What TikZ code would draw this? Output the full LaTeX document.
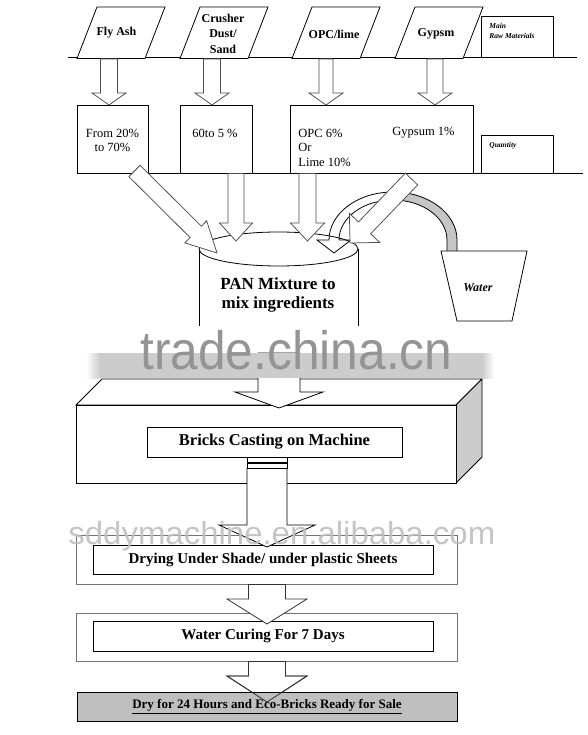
\documentclass[tikz,border=0pt]{standalone}
\usepackage{fontspec}
\setmainfont{Liberation Serif}
\newfontfamily\wmfont{Liberation Sans}
\usetikzlibrary{calc}
\newcommand\myfs[2]{\fontsize{#1}{#2}\selectfont}
% block arrow: [style]{tail}{tip}{half shaft}{half head}{head length}
\newcommand\blkarrow[6][]{%
  \coordinate (bah) at ($(#3)!#6!(#2)$);
  \draw[#1] ($(#2)!#4!90:(#3)$) -- ($(bah)!#4!90:(#3)$) -- ($(bah)!#5!90:(#3)$) -- (#3)
    -- ($(bah)!#5!-90:(#3)$) -- ($(bah)!#4!-90:(#3)$) -- ($(#2)!#4!-90:(#3)$) -- cycle;}
\tikzset{
  lbl/.style={inner sep=0pt, align=center, font=\bfseries\myfs{12}{15.5}},
  pct/.style={inner sep=0pt, align=center, font=\myfs{12.5}{14.5}},
  legend/.style={inner sep=0pt, align=left, font=\bfseries\itshape\myfs{7.5}{10}},
  frame/.style={draw=black!55, line width=0.9pt},
  barrow/.style={draw=black!70, fill=white, line width=0.75pt},
  stepbox/.style={draw, fill=white, inner sep=0pt, font=\bfseries\myfs{15}{18}},
}
\begin{document}
\begin{tikzpicture}[x=1pt,y=-1pt,line width=0.8pt]
\useasboundingbox (0,0) rectangle (587,735);
\fill[white] (0,0) rectangle (587,735);

% ---------- main raw materials row ----------
\draw (68,57) -- (577,57);
\draw[fill=white] (77,58.5) -- (97,7) -- (165,7) -- (145,58.5) -- cycle;
\draw[fill=white] (180,58.5) -- (200,7) -- (268,7) -- (248,58.5) -- cycle;
\draw[fill=white] (292,58.5) -- (312,7) -- (380,7) -- (360,58.5) -- cycle;
\draw[fill=white] (395,58.5) -- (415,7) -- (483,7) -- (463,58.5) -- cycle;
\node[lbl] (fa) at (116.5,33) {Fly Ash};
\node[lbl] (cd) at (223,33.5) {Crusher\\Dust/\\Sand};
\node[lbl] (opc) at (334,34) {OPC/lime};
\node[lbl] (gy) at (436,34) {Gypsm};
\draw (481,16) rectangle (553,57);
\node[legend, anchor=west] (mrm) at (489,31) {Main\\Raw Materials};

% ---------- quantity row ----------
\draw (77,173) -- (583,173);
\draw[fill=white] (77,105) rectangle (148,173);
\draw[fill=white] (180,105) rectangle (252,173);
\draw[fill=white] (290,105) rectangle (473,173);
\draw[fill=white] (481,135) rectangle (553,173);
\node[pct] (q1) at (112.5,140.5) {From 20\%\\to 70\%};
\node[pct] (q2) at (215,133) {60to 5 \%};
\node[pct, align=left, anchor=west] (q3) at (298,147.5) {OPC 6\%\\Or\\Lime 10\%};
\node[pct, anchor=west] (q4) at (392,133) {Gypsum 1\%};
\node[legend, anchor=west] (qty) at (489,146) {Quantity};

% arrows raw -> quantity
\coordinate (a1t) at (109,59); \coordinate (a1h) at (109,105);
\coordinate (a2t) at (212,59); \coordinate (a2h) at (212,105);
\coordinate (a3t) at (326,59); \coordinate (a3h) at (326,105);
\coordinate (a4t) at (435,59); \coordinate (a4h) at (435,105);
\blkarrow[barrow]{a1t}{a1h}{8.5pt}{17pt}{12pt}
\blkarrow[barrow]{a2t}{a2h}{8.5pt}{17pt}{12pt}
\blkarrow[barrow]{a3t}{a3h}{7pt}{17pt}{12pt}
\blkarrow[barrow]{a4t}{a4h}{8pt}{17pt}{12pt}

% ---------- pan ----------
\draw (199,249) -- (199,326);
\draw (358,249) -- (358,326);
\draw[fill=white] (278.5,249) ellipse [x radius=79.5, y radius=17];
\node[inner sep=0pt, align=center, font=\bfseries\myfs{17}{19.5}] (pan) at (278,295) {PAN Mixture to\\mix ingredients};

% water curved arrow
\fill[gray!45] (457,251) -- (457,240) arc[start angle=0,end angle=-90,x radius=64,y radius=48]
  -- (393,200) arc[start angle=-90,end angle=0,x radius=54,y radius=40] -- (447,251) -- cycle;
\draw[fill=none] (457,251) -- (457,240) arc[start angle=0,end angle=-180,x radius=64,y radius=48]
  -- (317,240) -- (334,253) -- (351,240) -- (339,240)
  arc[start angle=-180,end angle=0,x radius=54,y radius=40] -- (447,251);
\draw[fill=white] (441,251) -- (527,251) -- (512,321) -- (457,321) -- cycle;
\node[inner sep=0pt, font=\bfseries\itshape\myfs{12}{14}] (water) at (478,288) {Water};

% arrows into pan
\coordinate (d1t) at (134.5,171); \coordinate (d1h) at (217,253);
\coordinate (v1t) at (236,173.5); \coordinate (v1h) at (236,241);
\coordinate (v2t) at (307.5,173.5); \coordinate (v2h) at (307.5,241);
\coordinate (d2t) at (411.5,179); \coordinate (d2h) at (350,243);
\blkarrow[barrow]{d1t}{d1h}{8pt}{15.5pt}{30pt}
\blkarrow[barrow]{v1t}{v1h}{8pt}{16.5pt}{18pt}
\blkarrow[barrow]{v2t}{v2h}{8.5pt}{17pt}{18pt}
\blkarrow[barrow]{d2t}{d2h}{8.5pt}{21pt}{21pt}

% ---------- machine ----------
\draw[fill=white] (76,405) -- (102,379) -- (482,379) -- (456,405) -- cycle;
\draw[fill=gray!40] (456,405) -- (482,379) -- (482,457) -- (456,483) -- cycle;
\draw[fill=white] (76,405) rectangle (456,483);
\coordinate (pout) at (279,353); \coordinate (min) at (279,408);
\blkarrow[draw=black, fill=white, line width=0.8pt]{pout}{min}{21pt}{44pt}{16pt}

% watermark 1
\fill[gray!40] (100,353) rectangle (482,378);
\shade[left color=white, right color=gray!40] (86,353) rectangle (100,378);
\shade[left color=gray!40, right color=white] (482,353) rectangle (494,378);
\node[font=\wmfont\myfs{54}{54}, text=black!42, anchor=base west, inner sep=0pt, xscale=0.92] (wm1) at (140,369) {trade.china.cn};

\node[stepbox, minimum width=255pt, minimum height=30pt, font=\bfseries\myfs{16.5}{19}] (cast) at (274.5,442) {Bricks Casting on Machine};
\draw[fill=white] (247,457) rectangle (287,462);
\draw[fill=white] (247,463) rectangle (287,468);

% ---------- drying ----------
\draw[frame] (76,535) rectangle (457,584);
\node[stepbox, minimum width=340pt, minimum height=29pt] (dry) at (263,559.5) {Drying Under Shade/ under plastic Sheets};
\coordinate (c1t) at (267,468.5); \coordinate (c1h) at (267,547);
\blkarrow[draw=black, fill=white, line width=0.8pt]{c1t}{c1h}{20pt}{48pt}{22pt}

% ---------- curing ----------
\draw[frame] (76,613) rectangle (457,661);
\node[stepbox, minimum width=340pt, minimum height=30pt] (cure) at (263,636) {Water Curing For 7 Days};
\coordinate (c2t) at (267,584.5); \coordinate (c2h) at (267,624);
\blkarrow[draw=black!80, fill=white, line width=0.8pt]{c2t}{c2h}{18.5pt}{40pt}{25pt}

% ---------- final ----------
\coordinate (c3t) at (267,661.5); \coordinate (c3h) at (267,702);
\blkarrow[draw=black!80, fill=white, line width=0.8pt]{c3t}{c3h}{18.5pt}{40pt}{26pt}
\node[stepbox, fill=gray!50, minimum width=380pt, minimum height=29pt, font=\bfseries\myfs{13}{15}] (sale) at (267,706.5) {\underline{Dry for 24 Hours and Eco-Bricks Ready for Sale}};
\blkarrow[draw=black!80, fill=none, line width=0.8pt]{c3t}{c3h}{18.5pt}{40pt}{26pt}

% watermark 2
\node[font=\wmfont\myfs{32}{32}, text=black!25, anchor=base west, inner sep=0pt, opacity=0.9, xscale=1.03] (wm2) at (68,544) {sddymachine.en.alibaba.com};
\end{tikzpicture}
\end{document}
